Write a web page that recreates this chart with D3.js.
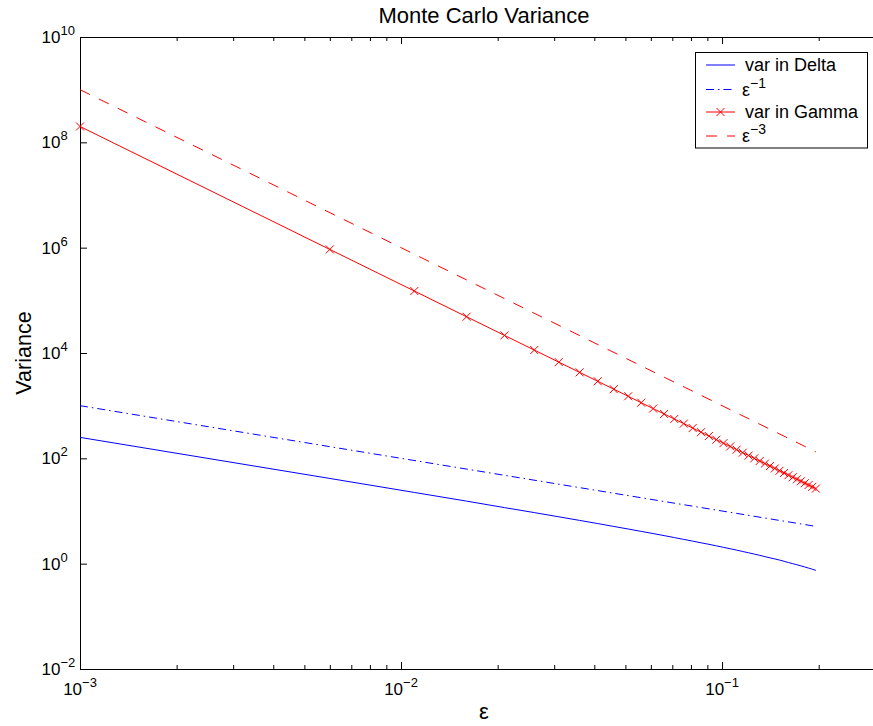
<!DOCTYPE html>
<html>
<head>
<meta charset="utf-8">
<script src="https://cdn.jsdelivr.net/npm/d3@7"></script>
<style>
body { margin: 0; background: #fff; }
text { font-family: "Liberation Sans", Arial, Helvetica, sans-serif; fill: #000; }
</style>
</head>
<body>
<svg id="chart" width="873" height="726"></svg>
<script>
let width = 873, height = 726;

// epsilon values (0.001 : 0.005 : 0.2)
let eps = [0.001, 0.006, 0.011, 0.016, 0.021, 0.026, 0.031, 0.036, 0.041, 0.046,
           0.051, 0.056, 0.061, 0.066, 0.071, 0.076, 0.081, 0.086, 0.091, 0.096,
           0.101, 0.106, 0.111, 0.116, 0.121, 0.126, 0.131, 0.136, 0.141, 0.146,
           0.151, 0.156, 0.161, 0.166, 0.171, 0.176, 0.181, 0.186, 0.191, 0.196];

let varDelta = [250, 41.5, 22.5, 15.4, 11.6, 9.33, 7.76, 6.63, 5.77, 5.09,
                4.55, 4.10, 3.73, 3.41, 3.13, 2.89, 2.68, 2.49, 2.33, 2.18,
                2.04, 1.92, 1.81, 1.70, 1.61, 1.52, 1.44, 1.36, 1.29, 1.23,
                1.17, 1.11, 1.05, 1.00, 0.955, 0.909, 0.866, 0.824, 0.785, 0.747];

let varGamma = [2.0e8, 9.26e5, 1.503e5, 4.88e4, 2.16e4, 1.138e4, 6713, 4287, 2902, 2055,
                1508, 1139, 881, 696, 559, 456, 376, 314, 265, 226,
                194, 168, 146, 128, 113, 100, 89, 79.5, 71.3, 64.3,
                58.1, 52.7, 47.9, 43.7, 40.0, 36.7, 33.7, 31.1, 28.7, 26.6];

// reference slopes, end points only (straight on log-log)
let refEps = [0.001, 0.196];
let refInv = [1000, 5.102];
let refCube = [1e9, 132.8];

let xTickPowers = [-3, -2, -1];
let yTickPowers = [-2, 0, 2, 4, 6, 8, 10];
let legendLabels = [["var in Delta", ""], ["\u03b5", "\u22121"], ["var in Gamma", ""], ["\u03b5", "\u22123"]];

let plotL = 80, plotR = 888, plotT = 37, plotB = 669;

let x = d3.scaleLog().domain([1e-3, 0.3288]).range([plotL, plotR]);
let y = d3.scaleLog().domain([1e-2, 1e10]).range([plotB, plotT]);

let svg = d3.select('#chart');
svg.append('rect').attr('width', width).attr('height', height).attr('fill', '#fff');

let xMajor = xTickPowers.map(p => Math.pow(10, p));
let yMajor = yTickPowers.map(p => Math.pow(10, p));
let xMinor = x.ticks().filter(t => Math.abs(Math.log10(t) - Math.round(Math.log10(t))) > 1e-6);

function noDomain(g) { g.select('.domain').remove(); }

// ticks point inwards on every side
svg.append('g').attr('transform', 'translate(0,' + plotB + ')')
    .call(d3.axisBottom(x).tickValues(xMajor).tickSize(-7).tickFormat('')).call(noDomain);
svg.append('g').attr('transform', 'translate(0,' + plotB + ')')
    .call(d3.axisBottom(x).tickValues(xMinor).tickSize(-4).tickFormat('')).call(noDomain);
svg.append('g').attr('transform', 'translate(0,' + plotT + ')')
    .call(d3.axisTop(x).tickValues(xMajor).tickSize(-7).tickFormat('')).call(noDomain);
svg.append('g').attr('transform', 'translate(0,' + plotT + ')')
    .call(d3.axisTop(x).tickValues(xMinor).tickSize(-4).tickFormat('')).call(noDomain);
svg.append('g').attr('transform', 'translate(' + plotL + ',0)')
    .call(d3.axisLeft(y).tickValues(yMajor).tickSize(-7).tickFormat('')).call(noDomain);
svg.append('g').attr('transform', 'translate(' + plotR + ',0)')
    .call(d3.axisRight(y).tickValues(yMajor).tickSize(-7).tickFormat('')).call(noDomain);

svg.append('rect')
    .attr('x', plotL + 0.5).attr('y', plotT + 0.5)
    .attr('width', plotR - plotL).attr('height', plotB - plotT)
    .attr('fill', 'none').attr('stroke', '#000').attr('stroke-width', 1);

// tick labels as 10 with a superscript power
let xLab = svg.append('g').selectAll('text')
    .data(xTickPowers).enter().append('text')
    .attr('x', d => x(Math.pow(10, d)))
    .attr('y', 695)
    .attr('text-anchor', 'middle')
    .style('font-size', '17px');
xLab.append('tspan').text('10');
xLab.append('tspan').attr('dy', -8).style('font-size', '13px')
    .text(d => (d < 0 ? '\u2212' : '') + Math.abs(d));

let yLab = svg.append('g').selectAll('text')
    .data(yTickPowers).enter().append('text')
    .attr('x', 41.5)
    .attr('y', d => y(Math.pow(10, d)) + 6)
    .style('font-size', '17px');
yLab.append('tspan').text('10');
yLab.append('tspan').attr('dy', -8).style('font-size', '13px')
    .text(d => (d < 0 ? '\u2212' : '') + Math.abs(d));

let line = d3.line().x(d => x(d[0])).y(d => y(d[1]));

svg.append('path')
    .datum(d3.zip(refEps, refCube))
    .attr('d', line)
    .attr('fill', 'none').attr('stroke', '#ff0000').attr('stroke-width', 1)
    .attr('stroke-dasharray', '11,10');

svg.append('path')
    .datum(d3.zip(refEps, refInv))
    .attr('d', line)
    .attr('fill', 'none').attr('stroke', '#0000ff').attr('stroke-width', 1)
    .attr('stroke-dasharray', '8,4,1.5,4');

svg.append('path')
    .datum(d3.zip(eps, varDelta))
    .attr('d', line)
    .attr('fill', 'none').attr('stroke', '#0000ff').attr('stroke-width', 1);

svg.append('path')
    .datum(d3.zip(eps, varGamma))
    .attr('d', line)
    .attr('fill', 'none').attr('stroke', '#ff0000').attr('stroke-width', 1);

let cross = 'M-4,-4L4,4M-4,4L4,-4';
svg.append('g').selectAll('path')
    .data(d3.zip(eps, varGamma)).enter().append('path')
    .attr('transform', d => 'translate(' + x(d[0]) + ',' + y(d[1]) + ')')
    .attr('d', cross)
    .attr('fill', 'none').attr('stroke', '#ff0000').attr('stroke-width', 1);

// titles
svg.append('text').attr('x', 484).attr('y', 23)
    .attr('text-anchor', 'middle').style('font-size', '22px')
    .text('Monte Carlo Variance');
svg.append('text').attr('x', 484).attr('y', 719)
    .attr('text-anchor', 'middle').style('font-size', '22px')
    .text('\u03b5');
svg.append('text')
    .attr('transform', 'translate(31,353) rotate(-90)')
    .attr('text-anchor', 'middle').style('font-size', '21.5px')
    .text('Variance');

// legend
let legendStyles = [
    {color: '#0000ff', dash: null, marker: false},
    {color: '#0000ff', dash: '8,4,1.5,4', marker: false},
    {color: '#ff0000', dash: null, marker: true},
    {color: '#ff0000', dash: '11,10', marker: false}
];
let rowY = [65, 89.5, 112, 136];

let legend = svg.append('g');
legend.append('rect')
    .attr('x', 695.5).attr('y', 52.5).attr('width', 172).attr('height', 95.5)
    .attr('fill', '#fff').attr('stroke', '#000').attr('stroke-width', 1);

let rows = legend.selectAll('g.row')
    .data(legendLabels).enter().append('g')
    .attr('class', 'row')
    .attr('transform', (d, i) => 'translate(0,' + rowY[i] + ')');

rows.append('line')
    .attr('x1', 706).attr('x2', 735).attr('y1', 0).attr('y2', 0)
    .attr('stroke', (d, i) => legendStyles[i].color)
    .attr('stroke-width', 1)
    .attr('stroke-dasharray', (d, i) => legendStyles[i].dash);

rows.filter((d, i) => legendStyles[i].marker)
    .append('path')
    .attr('transform', 'translate(720.5,0)')
    .attr('d', cross)
    .attr('fill', 'none').attr('stroke', '#ff0000').attr('stroke-width', 1);

let rowText = rows.append('text')
    .attr('x', d => d[1] ? 742 : 745)
    .attr('y', 6)
    .style('font-size', '18px');
rowText.append('tspan').text(d => d[0]);
rowText.filter(d => d[1]).append('tspan')
    .attr('dy', -8).style('font-size', '14px')
    .text(d => d[1]);
</script>
</body>
</html>
